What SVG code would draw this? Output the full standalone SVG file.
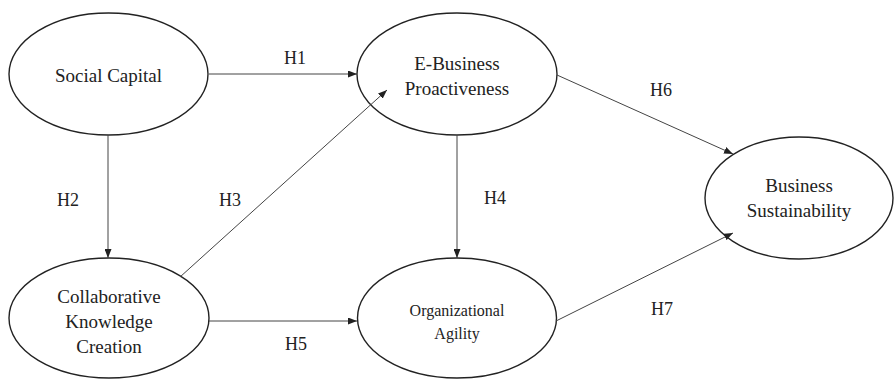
<svg xmlns="http://www.w3.org/2000/svg" width="895" height="380" viewBox="0 0 895 380">
<style>
.node ellipse{fill:#fff;stroke:#222;stroke-width:1.4}
.node text{font-size:19px;fill:#222;text-anchor:middle}
.edge line{stroke:#444;stroke-width:1}
.lbl{font-size:18px;fill:#222;text-anchor:middle}
</style>
<defs>
<marker id="ah" markerWidth="9" markerHeight="7" refX="9" refY="3.5" orient="auto" markerUnits="userSpaceOnUse">
<path d="M0,0 L9,3.5 L0,7 Z" fill="#222"/>
</marker>
</defs>
<rect width="895" height="380" fill="#fff"/>
<g font-family="'Liberation Serif', 'DejaVu Serif', serif">
<g id="social-capital" class="node">
<ellipse cx="108.5" cy="74" rx="99.5" ry="61"/>
<text x="108.5" y="82">Social Capital</text>
</g>
<g id="e-business-proactiveness" class="node">
<ellipse cx="457" cy="74" rx="100" ry="61"/>
<text x="457" y="70">E-Business</text>
<text x="457" y="95">Proactiveness</text>
</g>
<g id="business-sustainability" class="node">
<ellipse cx="799" cy="198" rx="94" ry="61"/>
<text x="799" y="192">Business</text>
<text x="799" y="217">Sustainability</text>
</g>
<g id="collaborative-knowledge-creation" class="node">
<ellipse cx="109" cy="318" rx="100" ry="60"/>
<text x="109" y="303">Collaborative</text>
<text x="109" y="328">Knowledge</text>
<text x="109" y="353">Creation</text>
</g>
<g id="organizational-agility" class="node">
<ellipse cx="457" cy="318" rx="99.5" ry="60"/>
<text x="457" y="316" style="font-size:16px">Organizational</text>
<text x="457" y="339" style="font-size:16px">Agility</text>
</g>
<g id="edges" class="edge">
<line x1="209" y1="74" x2="357" y2="74" marker-end="url(#ah)"/>
<line x1="108" y1="135" x2="108" y2="258" marker-end="url(#ah)"/>
<line x1="180" y1="277" x2="387" y2="90" marker-end="url(#ah)"/>
<line x1="457" y1="135" x2="457" y2="258" marker-end="url(#ah)"/>
<line x1="209" y1="321" x2="357" y2="321" marker-end="url(#ah)"/>
<line x1="557" y1="75" x2="733" y2="154" marker-end="url(#ah)"/>
<line x1="556" y1="321" x2="733" y2="233" marker-end="url(#ah)"/>
</g>
<g id="labels">
<text class="lbl" x="295" y="64">H1</text>
<text class="lbl" x="68" y="206">H2</text>
<text class="lbl" x="230" y="206">H3</text>
<text class="lbl" x="495" y="204">H4</text>
<text class="lbl" x="296" y="350">H5</text>
<text class="lbl" x="661" y="96">H6</text>
<text class="lbl" x="662" y="315">H7</text>
</g>
</g>
</svg>
